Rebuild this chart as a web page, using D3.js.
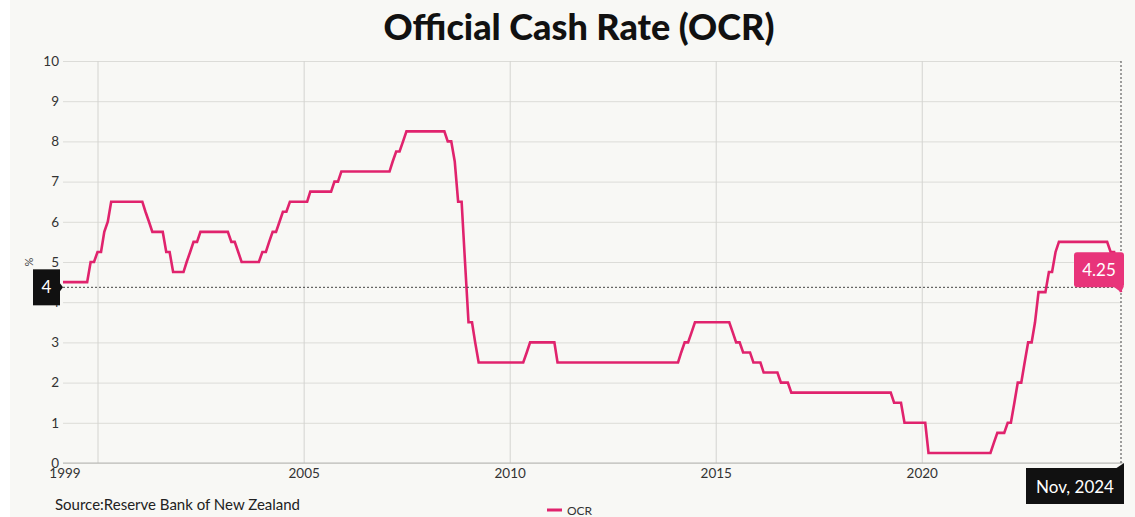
<!DOCTYPE html>
<html><head><meta charset="utf-8">
<script src="https://cdn.jsdelivr.net/npm/d3@7"></script>
<style>
html,body{margin:0;padding:0;background:#fff;}
svg{display:block;font-family:Lato,"Open Sans",sans-serif;}
</style></head><body>
<svg id="chart" width="1135" height="517"></svg>
<script>
// ---------- data ----------
const chartTitle = "Official Cash Rate (OCR)";
const sourceText = "Source:Reserve Bank of New Zealand";
const seriesName = "OCR";
const unitLabel = "%";
const startMonth = "1999-03-01";   // first monthly observation
// Month-end OCR (%), monthly from Mar 1999 to Nov 2024
const ocr = [
  /*1999 Mar-Dec*/ 4.5,4.5,4.5,4.5,4.5,4.5,4.5,4.5,5.0,5.0,
  /*2000*/ 5.25,5.25,5.75,6.0,6.5,6.5,6.5,6.5,6.5,6.5,6.5,6.5,
  /*2001*/ 6.5,6.5,6.25,6.0,5.75,5.75,5.75,5.75,5.25,5.25,4.75,4.75,
  /*2002*/ 4.75,4.75,5.0,5.25,5.5,5.5,5.75,5.75,5.75,5.75,5.75,5.75,
  /*2003*/ 5.75,5.75,5.75,5.5,5.5,5.25,5.0,5.0,5.0,5.0,5.0,5.0,
  /*2004*/ 5.25,5.25,5.5,5.75,5.75,6.0,6.25,6.25,6.5,6.5,6.5,6.5,
  /*2005*/ 6.5,6.5,6.75,6.75,6.75,6.75,6.75,6.75,6.75,7.0,7.0,7.25,
  /*2006*/ 7.25,7.25,7.25,7.25,7.25,7.25,7.25,7.25,7.25,7.25,7.25,7.25,
  /*2007*/ 7.25,7.25,7.5,7.75,7.75,8.0,8.25,8.25,8.25,8.25,8.25,8.25,
  /*2008*/ 8.25,8.25,8.25,8.25,8.25,8.25,8.0,8.0,7.5,6.5,6.5,5.0,
  /*2009*/ 3.5,3.5,3.0,2.5,2.5,2.5,2.5,2.5,2.5,2.5,2.5,2.5,
  /*2010*/ 2.5,2.5,2.5,2.5,2.5,2.75,3.0,3.0,3.0,3.0,3.0,3.0,
  /*2011*/ 3.0,3.0,2.5,2.5,2.5,2.5,2.5,2.5,2.5,2.5,2.5,2.5,
  /*2012*/ 2.5,2.5,2.5,2.5,2.5,2.5,2.5,2.5,2.5,2.5,2.5,2.5,
  /*2013*/ 2.5,2.5,2.5,2.5,2.5,2.5,2.5,2.5,2.5,2.5,2.5,2.5,
  /*2014*/ 2.5,2.5,2.75,3.0,3.0,3.25,3.5,3.5,3.5,3.5,3.5,3.5,
  /*2015*/ 3.5,3.5,3.5,3.5,3.5,3.25,3.0,3.0,2.75,2.75,2.75,2.5,
  /*2016*/ 2.5,2.5,2.25,2.25,2.25,2.25,2.25,2.0,2.0,2.0,1.75,1.75,
  /*2017*/ 1.75,1.75,1.75,1.75,1.75,1.75,1.75,1.75,1.75,1.75,1.75,1.75,
  /*2018*/ 1.75,1.75,1.75,1.75,1.75,1.75,1.75,1.75,1.75,1.75,1.75,1.75,
  /*2019*/ 1.75,1.75,1.75,1.75,1.5,1.5,1.5,1.0,1.0,1.0,1.0,1.0,
  /*2020*/ 1.0,1.0,0.25,0.25,0.25,0.25,0.25,0.25,0.25,0.25,0.25,0.25,
  /*2021*/ 0.25,0.25,0.25,0.25,0.25,0.25,0.25,0.25,0.25,0.5,0.75,0.75,
  /*2022*/ 0.75,1.0,1.0,1.5,2.0,2.0,2.5,3.0,3.0,3.5,4.25,4.25,
  /*2023*/ 4.25,4.75,4.75,5.25,5.5,5.5,5.5,5.5,5.5,5.5,5.5,5.5,
  /*2024 Jan-Nov*/ 5.5,5.5,5.5,5.5,5.5,5.5,5.5,5.25,5.25,4.75,4.25
];
const yTicks = [0,1,2,3,4,5,6,7,8,9,10];
const xGridYears = [2000,2005,2010,2015,2020];
const xLabelYears = [2005,2010,2015,2020,2025];
const firstXLabel = "1999";
const crosshairValue = 4.37;      // hover position on the y axis
const crosshairLabel = "4";
const tooltipValue = "4.25";
const tooltipDate = "Nov, 2024";

// ---------- layout ----------
const W = 1135, H = 517;
const plot = {left: 63, right: 1121, top: 61, bottom: 463};
const lineColor = "#e0236d";

const svg = d3.select("#chart");
svg.append("rect").attr("x", 10).attr("y", 0).attr("width", W - 10).attr("height", H).attr("fill", "#f8f8f5");

const start = new Date(startMonth + "T00:00:00Z");
const dates = ocr.map((v, i) => d3.utcMonth.offset(start, i));
const data = ocr.map((v, i) => ({date: dates[i], value: v}));

const x = d3.scaleUtc().domain([dates[0], dates[dates.length - 1]]).range([plot.left, plot.right]);
const y = d3.scaleLinear().domain([0, 10]).range([plot.bottom, plot.top]);

// title
svg.append("text").attr("x", 579).attr("y", 40).attr("text-anchor", "middle")
  .attr("font-size", 36).attr("font-weight", 900).attr("fill", "#111").text(chartTitle);

// horizontal grid
const gy = svg.append("g").attr("transform", `translate(${plot.left},0)`)
  .call(d3.axisLeft(y).tickValues(yTicks).tickSize(-(plot.right - plot.left)).tickFormat(""));
gy.select(".domain").remove();
gy.selectAll(".tick line").attr("stroke", "#dcdcd8").attr("stroke-width", 1);

// vertical grid
const gx = svg.append("g").attr("transform", `translate(0,${plot.top})`)
  .call(d3.axisBottom(x).tickValues(xGridYears.map(yr => new Date(Date.UTC(yr, 0, 1))))
    .tickSize(plot.bottom - plot.top).tickFormat(""));
gx.select(".domain").remove();
gx.selectAll(".tick line").attr("stroke", "#d4d4d0").attr("stroke-width", 1);

// x baseline
svg.append("line").attr("x1", plot.left).attr("x2", plot.right + 2)
  .attr("y1", y(0)).attr("y2", y(0)).attr("stroke", "#b8b8b4").attr("stroke-width", 1);

// y labels
const yl = svg.append("g").attr("transform", `translate(${plot.left},0)`)
  .call(d3.axisLeft(y).tickValues(yTicks).tickSize(0).tickPadding(4).tickFormat(d3.format("d")));
yl.select(".domain").remove();
yl.selectAll("text").attr("font-size", 13.5).attr("fill", "#333").attr("font-family", "Lato, sans-serif");

// unit label
svg.append("text").attr("transform", `translate(33,${y(5)}) rotate(-90)`)
  .attr("text-anchor", "middle").attr("font-size", 11).attr("fill", "#444").text(unitLabel);

// x labels (a label past the plot edge is kept inside it)
const xl = svg.append("g").attr("transform", `translate(0,${plot.bottom})`)
  .call(d3.axisBottom(x).tickValues(xLabelYears.map(yr => new Date(Date.UTC(yr, 0, 1))))
    .tickSize(0).tickPadding(5).tickFormat(d3.utcFormat("%Y")));
xl.select(".domain").remove();
xl.selectAll(".tick").filter(d => x(d) > plot.right)
  .attr("transform", `translate(${plot.right},0)`)
  .select("text").attr("text-anchor", "end");
xl.selectAll("text").attr("font-size", 13.5).attr("fill", "#333").attr("font-family", "Lato, sans-serif");
svg.append("text").attr("x", x(dates[0]) + 2).attr("y", plot.bottom + 15).attr("text-anchor", "middle")
  .attr("font-size", 13.5).attr("fill", "#333").text(firstXLabel);

// line
svg.append("path").datum(data)
  .attr("d", d3.line().x(d => x(d.date)).y(d => y(d.value)))
  .attr("fill", "none").attr("stroke", lineColor).attr("stroke-width", 2.6)
  .attr("stroke-linejoin", "miter");

// crosshairs
const last = data[data.length - 1];
const px = x(last.date), py = y(last.value), cy = y(crosshairValue);
svg.append("line").attr("x1", plot.left).attr("x2", plot.right)
  .attr("y1", cy).attr("y2", cy).attr("stroke", "#444").attr("stroke-width", 1).attr("stroke-dasharray", "2,2");
svg.append("line").attr("x1", px).attr("x2", px)
  .attr("y1", plot.top).attr("y2", plot.bottom).attr("stroke", "#444").attr("stroke-width", 1).attr("stroke-dasharray", "2,2");

// y crosshair label
svg.append("rect").attr("x", 33).attr("y", cy - 18).attr("width", 27).attr("height", 36).attr("fill", "#111");
svg.append("path").attr("d", `M60,${cy - 4} L${plot.left},${cy} L60,${cy + 4} Z`).attr("fill", "#111");
svg.append("text").attr("x", 46.5).attr("y", cy + 6).attr("text-anchor", "middle")
  .attr("font-size", 17).attr("fill", "#fff").text(crosshairLabel);

// value tooltip
svg.append("rect").attr("x", px - 47).attr("y", py - 40).attr("width", 50).attr("height", 35).attr("rx", 3).attr("fill", "#e8347a");
svg.append("path").attr("d", `M${px - 8},${py - 6} L${px + 3},${py - 6} L${px},${py} Z`).attr("fill", "#e8347a");
svg.append("text").attr("x", px - 22).attr("y", py - 16).attr("text-anchor", "middle")
  .attr("font-size", 17).attr("fill", "#fff").text(tooltipValue);

// date tooltip
svg.append("rect").attr("x", px - 95).attr("y", plot.bottom + 5).attr("width", 98).attr("height", 36).attr("fill", "#111");
svg.append("path").attr("d", `M${px - 6},${plot.bottom + 6} L${px + 3},${plot.bottom} L${px + 3},${plot.bottom + 6} Z`).attr("fill", "#111");
svg.append("text").attr("x", px - 46).attr("y", plot.bottom + 30).attr("text-anchor", "middle")
  .attr("font-size", 17).attr("fill", "#fff").text(tooltipDate);

// source
svg.append("text").attr("x", 55).attr("y", 510).attr("font-size", 15).attr("fill", "#222").text(sourceText);

// legend
svg.append("line").attr("x1", 547).attr("x2", 562).attr("y1", 510).attr("y2", 510)
  .attr("stroke", lineColor).attr("stroke-width", 3);
svg.append("text").attr("x", 567).attr("y", 515).attr("font-size", 12).attr("fill", "#333").text(seriesName);
</script>
</body></html>
